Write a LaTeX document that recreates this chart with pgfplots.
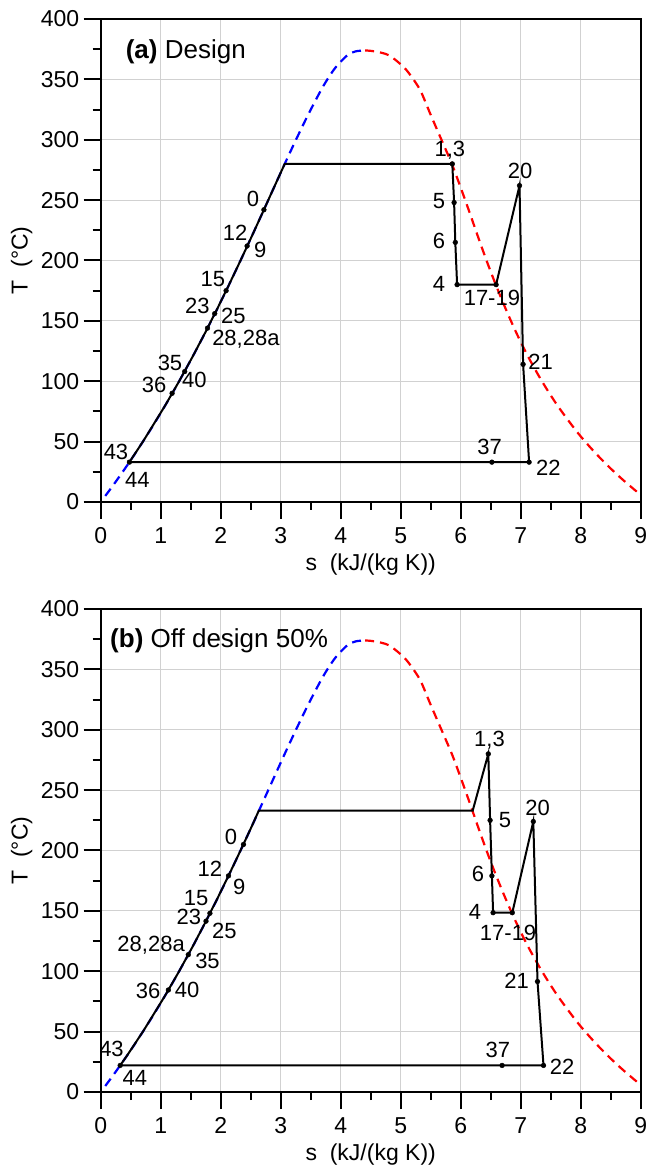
\documentclass[border=0pt]{standalone}
\usepackage{fontspec}
\setmainfont{Liberation Sans}
\usepackage{pgfplots}
\pgfplotsset{compat=1.18}

\newcommand{\labfont}{\fontsize{22bp}{26bp}\selectfont}
\newcommand{\lab}[3]{\node[font=\labfont] at (axis cs:#1,#2) {#3};}

\pgfplotsset{
  tsaxis/.style={
    scale only axis, width=540bp, height=483bp,
    xmin=0, xmax=9, ymin=0, ymax=400,
    xtick={0,1,...,9}, ytick={0,50,...,400},
    minor x tick num=1, minor y tick num=1,
    tick align=outside, tick pos=left,
    major tick length=17bp, minor tick length=8bp,
    grid=major, grid style={color=black!18, line width=1.2bp},
    axis line style={line width=2.2bp, black},
    major tick style={black, line width=2bp},
    minor tick style={black, line width=2bp},
    /pgf/number format/assume math mode=true,
    ticklabel style={font=\fontsize{23bp}{27bp}\selectfont},
    xticklabel shift=5bp, yticklabel shift=1bp,
    xlabel={s\ \ (kJ/(kg K))},
    ylabel={T\ \ (°C)},
    label style={font=\fontsize{23bp}{27bp}\selectfont},
    xlabel style={at={(axis description cs:0.5,-0.1304)}, anchor=center},
    ylabel style={at={(axis description cs:-0.1463,0.5)}, anchor=center},
    clip=true,
  },
  liq/.style={blue, line width=2.2bp, dash pattern=on 9bp off 6bp, smooth},
  vap/.style={red, line width=2.2bp, dash pattern=on 9bp off 6bp, smooth},
  cyc/.style={black, line width=2bp, no marks},
  dots/.style={only marks, mark=*, mark size=2.4bp, black},
}

\begin{document}
\begin{tikzpicture}

% ---------------- (a) Design ----------------
\begin{axis}[tsaxis, at={(100.7bp,666bp)}, anchor=south west]
\addplot[liq] coordinates {
(0.0763,5) (0.1511,10) (0.2966,20) (0.4369,30) (0.5725,40) (0.7038,50)
(0.8313,60) (0.9551,70) (1.0756,80) (1.1929,90) (1.3072,100) (1.5279,120)
(1.7392,140) (1.9426,160) (2.1392,180) (2.3305,200) (2.5177,220) (2.7015,240)
(2.8838,260) (3.0668,280) (3.2548,300) (3.4500,320) (3.6601,340) (3.7784,350)
(3.9167,360) (4.1112,370) (4.25,373.2) (4.407,373.95)};
\addplot[vap] coordinates {
(4.407,373.95) (4.56,373.2) (4.8012,370) (5.0537,360) (5.2112,350) (5.3357,340)
(5.5052,320) (5.6791,300) (5.8523,280) (6.0024,260) (6.1463,240) (6.2861,220)
(6.4302,200) (6.5841,180) (6.7491,160) (6.9284,140) (7.1277,120) (7.3542,100)
(7.6111,80) (7.9081,60) (8.0748,50) (8.2556,40) (8.4520,30) (8.6660,20)
(8.8999,10) (9.0257,5)};
\addplot[cyc] coordinates {
(0.478,33) (0.7038,50) (1.0756,80) (1.3072,100) (1.5279,120) (1.7392,140)
(1.9426,160) (2.1392,180) (2.3305,200) (2.5177,220) (2.7015,240) (2.8838,260)
(3.0668,280) (5.86,280) (5.89,248) (5.91,215) (5.94,180) (6.59,180)
(6.98,262) (7.04,114) (7.14,33) (0.478,33)};
\addplot[dots] coordinates {
(0.478,33) (2.72,242) (2.44,212) (2.09,175) (1.90,156) (1.78,144) (1.40,108)
(1.19,90) (5.86,280) (5.89,248) (5.91,215) (5.94,180) (6.59,180) (6.98,262)
(7.04,114) (7.14,33) (6.52,33)};
\node[anchor=west, font=\fontsize{26bp}{30bp}\selectfont] at (axis cs:0.36,373) {\textbf{(a)} Design};
\lab{2.54}{251}{0}
\lab{2.24}{223}{12}
\lab{2.66}{209}{9}
\lab{1.87}{185}{15}
\lab{1.61}{162.6}{23}
\lab{2.21}{154}{25}
\lab{2.42}{135}{28,28a}
\lab{1.155}{115.4}{35}
\lab{0.89}{97}{36}
\lab{1.56}{101}{40}
\lab{0.255}{41.7}{43}
\lab{0.61}{18.2}{44}
\lab{5.82}{291.5}{1,3}
\lab{5.64}{249.5}{5}
\lab{5.64}{216.4}{6}
\lab{5.64}{181}{4}
\lab{6.52}{168.7}{17-19}
\lab{6.99}{274.4}{20}
\lab{7.33}{115.7}{21}
\lab{7.46}{27.9}{22}
\lab{6.48}{45.8}{37}
\end{axis}

% ---------------- (b) Off design 50% ----------------
\begin{axis}[tsaxis, at={(100.7bp,76bp)}, anchor=south west]
\addplot[liq] coordinates {
(0.0763,5) (0.1511,10) (0.2966,20) (0.4369,30) (0.5725,40) (0.7038,50)
(0.8313,60) (0.9551,70) (1.0756,80) (1.1929,90) (1.3072,100) (1.5279,120)
(1.7392,140) (1.9426,160) (2.1392,180) (2.3305,200) (2.5177,220) (2.7015,240)
(2.8838,260) (3.0668,280) (3.2548,300) (3.4500,320) (3.6601,340) (3.7784,350)
(3.9167,360) (4.1112,370) (4.25,373.2) (4.407,373.95)};
\addplot[vap] coordinates {
(4.407,373.95) (4.56,373.2) (4.8012,370) (5.0537,360) (5.2112,350) (5.3357,340)
(5.5052,320) (5.6791,300) (5.8523,280) (6.0024,260) (6.1463,240) (6.2861,220)
(6.4302,200) (6.5841,180) (6.7491,160) (6.9284,140) (7.1277,120) (7.3542,100)
(7.6111,80) (7.9081,60) (8.0748,50) (8.2556,40) (8.4520,30) (8.6660,20)
(8.8999,10) (9.0257,5)};
\addplot[cyc] coordinates {
(0.3245,22) (0.4369,30) (0.7038,50) (1.0756,80) (1.3072,100) (1.5279,120)
(1.7392,140) (1.9426,160) (2.1392,180) (2.3305,200) (2.5177,220) (2.635,233)
(6.20,233) (6.46,280) (6.49,225) (6.52,179) (6.54,148.5) (6.86,148.5)
(7.21,224) (7.28,91.5) (7.38,22) (0.3245,22)};
\addplot[dots] coordinates {
(0.3245,22) (2.38,205) (2.13,179) (1.82,148) (1.755,141.5) (1.46,113.7)
(1.128,84.5) (6.46,280) (6.49,225) (6.52,179) (6.54,148.5) (6.86,148.5)
(7.21,224) (7.28,91.5) (7.38,22) (6.69,22)};
\node[anchor=west, font=\fontsize{26bp}{30bp}\selectfont] at (axis cs:0.1,374) {\textbf{(b)} Off design 50\%};
\lab{2.17}{211}{0}
\lab{1.82}{185}{12}
\lab{2.31}{170}{9}
\lab{1.59}{161}{15}
\lab{1.47}{145}{23}
\lab{2.06}{133.6}{25}
\lab{0.84}{121.7}{28,28a}
\lab{1.78}{108.5}{35}
\lab{0.79}{83.6}{36}
\lab{1.44}{84.5}{40}
\lab{0.18}{36}{43}
\lab{0.57}{11.6}{44}
\lab{6.48}{291.5}{1,3}
\lab{6.74}{225}{5}
\lab{6.29}{181}{6}
\lab{6.24}{149}{4}
\lab{6.79}{132}{17-19}
\lab{7.28}{235.5}{20}
\lab{6.93}{92}{21}
\lab{7.69}{20.5}{22}
\lab{6.62}{34.8}{37}
\end{axis}

\pgfresetboundingbox
\path[use as bounding box] (0,0) rectangle (648bp,1168bp);
\end{tikzpicture}
\end{document}
